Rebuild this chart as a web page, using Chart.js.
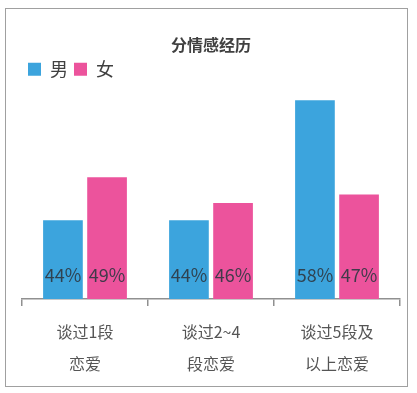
<!DOCTYPE html>
<html>
<head>
<meta charset="utf-8">
<script src="https://cdn.jsdelivr.net/npm/chart.js@4"></script>
<style>
  body { margin: 0; background: #fff; }
  #frame { position: absolute; left: 5px; top: 8px; width: 401px; height: 377px; border: 1px solid #a0a0a0; }
  #wrap { position: absolute; left: 0; top: 0; width: 417px; height: 393px; }
</style>
</head>
<body>
<div id="frame"></div>
<div id="wrap"><canvas id="chart"></canvas></div>
<script>
var categories = [['谈过1段', '恋爱'], ['谈过2~4', '段恋爱'], ['谈过5段及', '以上恋爱']];
var male = [44, 44, 58];
var female = [49, 46, 47];
var seriesNames = ['男', '女'];

var font = '"Noto Sans CJK SC", "Noto Sans", sans-serif';

// value labels sit near the bottom of each bar
var valueLabels = {
  id: 'valueLabels',
  afterDatasetsDraw: function (chart) {
    var ctx = chart.ctx;
    var bottom = chart.chartArea.bottom;
    ctx.save();
    ctx.font = '18px ' + font;
    ctx.fillStyle = 'rgba(45,55,65,0.9)';
    ctx.textAlign = 'center';
    ctx.textBaseline = 'middle';
    chart.data.datasets.forEach(function (ds, i) {
      chart.getDatasetMeta(i).data.forEach(function (bar, j) {
        ctx.fillText(ds.data[j] + '%', bar.x, bottom - 24);
      });
    });
    ctx.restore();
  }
};

var chart = new Chart('chart', {
  type: 'bar',
  plugins: [valueLabels],
  data: {
    labels: categories,
    datasets: [
      { label: seriesNames[0], data: male, backgroundColor: '#3ca4dd' },
      { label: seriesNames[1], data: female, backgroundColor: '#ec539c' }
    ]
  },
  options: {
    responsive: true,
    maintainAspectRatio: false,
    animation: false,
    layout: { padding: { left: 22, right: 17, bottom: 3, top: 0 } },
    datasets: { bar: { categoryPercentage: 0.7, barPercentage: 0.9 } },
    plugins: {
      tooltip: { enabled: false },
      title: {
        display: true,
        text: '分情感经历',
        color: '#404040',
        font: { family: font, size: 16, weight: 'bold' },
        padding: { top: 35, bottom: 0 }
      },
      legend: {
        position: 'top',
        align: 'start',
        labels: {
          boxWidth: 13,
          boxHeight: 13,
          padding: 6,
          color: '#404040',
          font: { family: font, size: 18 }
        }
      }
    },
    scales: {
      y: { display: false, min: 34.8, max: 59.4 },
      x: {
        border: { display: true, color: '#909090', width: 1.5 },
        grid: { display: true, drawOnChartArea: false, drawTicks: true, tickLength: 7, color: '#909090', lineWidth: 1.5, offset: true },
        ticks: {
          color: '#555',
          padding: 10,
          font: { family: font, size: 16, lineHeight: 2 }
        }
      }
    }
  }
});
</script>
</body>
</html>
